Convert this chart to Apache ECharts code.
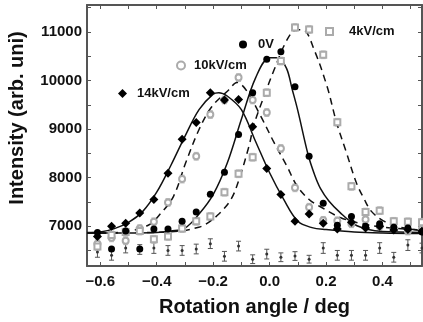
<!DOCTYPE html>
<html><head><meta charset="utf-8">
<script src="https://cdn.jsdelivr.net/npm/echarts@6/dist/echarts.min.js"></script>
<style>html,body{margin:0;padding:0;background:#fff}#c{width:423px;height:322px}</style>
</head><body><div id="c"></div>
<script>
// ---- data ----
const xs = [-0.61,-0.56,-0.51,-0.46,-0.41,-0.36,-0.31,-0.26,-0.21,-0.16,-0.11,-0.06,-0.01,0.04,0.09,0.14,0.19,0.24,0.29,0.34,0.39,0.44,0.49,0.54];
const v0V  = [6870,6530,6900,6530,6940,6940,7100,7290,7660,8110,8890,9750,10440,10590,9870,8440,7470,7020,7200,7000,7050,6980,6960,6880];
const v14k = [6790,7000,7060,7270,7550,8090,8790,9135,9750,9600,9610,9050,8190,7650,7100,7250,7060,6940,7080,6960,7000,6920,6930,6900];
const v10k = [6640,6760,6700,6950,7090,7490,7970,8440,9300,9600,10060,9600,9340,8600,7790,7390,7120,7110,7050,7140,7000,6950,6900,6950];
const v4k  = [6580,6820,6880,6900,6730,6790,6950,7100,7200,7700,8080,8420,9750,10400,11090,11050,10530,9140,7820,7290,7320,7100,7090,7080];
const errGray = [80,80,80,80,80,80,80,80,80,80,80,80,80,80,80,80,80,80,80,80,80,80,80,80];
const vBase = [6470,6400,6550,6520,6550,6500,6500,6530,6640,6380,6590,6320,6425,6360,6385,6320,6550,6400,6400,6400,6550,6360,6610,6550];
const errBase = [110,100,100,100,110,100,100,100,100,100,100,90,100,90,90,80,110,100,100,100,110,100,110,100];

// fit curves (traced)
const fit0V_x  = [-0.647,-0.5,-0.4,-0.35,-0.3,-0.25,-0.2,-0.15,-0.1,-0.05,0,0.03,0.06,0.08,0.1,0.137,0.16,0.18,0.21,0.25,0.3,0.35,0.4,0.54];
const fit0V_y  = [6860,6860,6870,6900,6960,7250,7650,8300,9200,10050,10470,10470,10250,9820,9380,8460,8050,7780,7520,7280,7040,6930,6890,6870];
const fit14_x  = [-0.647,-0.6,-0.55,-0.5,-0.45,-0.4,-0.35,-0.3,-0.25,-0.2,-0.18,-0.15,-0.1,-0.05,0,0.05,0.1,0.15,0.2,0.3,0.4,0.54];
const fit14_y  = [6870,6880,6950,7080,7300,7700,8250,8850,9400,9720,9750,9680,9400,8750,8100,7550,7100,6970,6930,6880,6860,6850];
const fit10_x  = [-0.647,-0.6,-0.52,-0.43,-0.386,-0.34,-0.297,-0.25,-0.205,-0.144,-0.116,-0.084,-0.031,0.016,0.062,0.097,0.14,0.18,0.25,0.32,0.4,0.54];
const fit10_y  = [6860,6860,6880,7020,7260,7620,8310,8990,9460,9810,9960,9810,9260,8720,8230,7830,7550,7400,7180,7060,6980,6920];
const fit4_x   = [-0.647,-0.43,-0.315,-0.251,-0.226,-0.18,-0.137,-0.109,-0.073,-0.055,-0.02,0.016,0.062,0.095,0.12,0.158,0.204,0.237,0.272,0.307,0.335,0.36,0.403,0.46,0.54];
const fit4_y   = [6860,6870,6900,6980,7040,7250,7550,7950,8650,9100,9670,10220,10840,11045,11040,10630,9870,9140,8520,7900,7560,7310,7110,6980,6910];

const xTicks = [-0.6,-0.5,-0.4,-0.3,-0.2,-0.1,0,0.1,0.2,0.3,0.4,0.5];
const xLabels = [-0.6,-0.4,-0.2,0,0.2,0.4];
const yTicks = [6500,7000,7500,8000,8500,9000,9500,10000,10500,11000,11500];
const yLabels = [7000,8000,9000,10000,11000];

const zip = (a,b) => a.map((v,i)=>[v,b[i]]);
const zip3 = (a,b,c) => a.map((v,i)=>[v,b[i],c[i]]);

const FONT = 'Liberation Sans, Arial, sans-serif';
const FRAME = '#555';
const GRAY = '#ababab';
const GRAYBAR = '#bdbdbd';

function errRender(color){
  return function(params, api){
    const x = api.value(0), y = api.value(1), e = api.value(2);
    const t = api.coord([x, y+e]), b = api.coord([x, y-e]);
    const w = 2.5;
    const st = {stroke: color, lineWidth: 1};
    return {type:'group', children:[
      {type:'line', shape:{x1:t[0],y1:t[1],x2:b[0],y2:b[1]}, style:st},
      {type:'line', shape:{x1:t[0]-w,y1:t[1],x2:t[0]+w,y2:t[1]}, style:st},
      {type:'line', shape:{x1:b[0]-w,y1:b[1],x2:b[0]+w,y2:b[1]}, style:st}
    ]};
  };
}

const xmin = -0.647, xmax = 0.54, ymin = 6180, ymax = 11555;
const axisLine = {show:true, onZero:false, lineStyle:{color:FRAME, width:2}};

const chart = echarts.init(document.getElementById('c'), null, {renderer:'canvas'});
const legendBase = {orient:'horizontal', padding:0, itemWidth:8, itemHeight:8, selectedMode:false};
const legText = (pl) => ({fontSize:13, fontWeight:'bold', color:'#111', fontFamily:FONT, padding:[0,0,0,pl]});
const grayStyle = {color:GRAY, borderWidth:1.1, opacity:1};

chart.setOption({
  animation:false,
  backgroundColor:'#fff',
  grid:{left:87, right:1, top:5, bottom:55},
  xAxis:[
    {type:'value', min:xmin, max:xmax, position:'bottom', axisLine,
     axisTick:{show:true, inside:true, length:4, customValues:xTicks, lineStyle:{color:FRAME, width:1}},
     axisLabel:{customValues:xLabels, color:'#111', fontSize:15, fontWeight:'bold', fontFamily:FONT, margin:8,
       formatter:v => (v < -1e-9 ? '\u2212' : '') + Math.abs(v).toFixed(1)},
     splitLine:{show:false},
     name:'Rotation angle / deg', nameLocation:'middle', nameGap:31,
     nameTextStyle:{fontSize:20, fontWeight:'bold', color:'#111', fontFamily:FONT}},
    {type:'value', min:xmin, max:xmax, position:'top', axisLine,
     axisTick:{show:true, inside:true, length:4, customValues:xTicks, lineStyle:{color:FRAME, width:1}},
     axisLabel:{show:false}, splitLine:{show:false}}
  ],
  yAxis:[
    {type:'value', min:ymin, max:ymax, position:'left', axisLine,
     axisTick:{show:true, inside:true, length:4, customValues:yTicks, lineStyle:{color:FRAME, width:1}},
     axisLabel:{customValues:yLabels, color:'#111', fontSize:15, fontWeight:'bold', fontFamily:FONT, margin:5,
       formatter:v => String(Math.round(v))},
     splitLine:{show:false}},
    {type:'value', min:ymin, max:ymax, position:'right', axisLine,
     axisTick:{show:true, inside:true, length:4, customValues:yTicks, lineStyle:{color:FRAME, width:1}},
     axisLabel:{show:false}, splitLine:{show:false}}
  ],
  legend:[
    Object.assign({}, legendBase, {data:['0V'], left:239, top:38, textStyle:legText(6)}),
    Object.assign({}, legendBase, {data:['10kV/cm'], left:176, top:59, textStyle:legText(4)}),
    Object.assign({}, legendBase, {data:['4kV/cm'], left:325, top:25, itemWidth:7, itemHeight:7, textStyle:legText(11)}),
    Object.assign({}, legendBase, {data:['14kV/cm'], left:118, top:87, itemWidth:9, itemHeight:9, textStyle:legText(5)})
  ],
  graphic:[
    {type:'text', x:17, y:118, rotation:Math.PI/2,
     style:{text:'Intensity (arb. uni)', font:'bold 20px ' + FONT, fill:'#111', align:'center', verticalAlign:'middle'}}
  ],
  series:[
    {type:'custom', name:'baseErr', renderItem:errRender('#555'), data:zip3(xs, vBase, errBase), z:2, clip:false},
    {type:'scatter', name:'base', data:zip(xs, vBase), symbol:'circle', symbolSize:3, itemStyle:{color:'#333', opacity:1}, z:3, clip:false},
    {type:'custom', name:'err10', renderItem:errRender(GRAYBAR), data:zip3(xs, v10k, errGray), z:2, clip:false},
    {type:'custom', name:'err4', renderItem:errRender(GRAYBAR), data:zip3(xs, v4k, errGray), z:2, clip:false},
    {type:'line', name:'fit14', data:zip(fit14_x, fit14_y), smooth:0.35, showSymbol:false, lineStyle:{color:'#111', width:1.5}, z:4},
    {type:'line', name:'fit0', data:zip(fit0V_x, fit0V_y), smooth:0.35, showSymbol:false, lineStyle:{color:'#111', width:1.5}, z:4},
    {type:'line', name:'fit10', data:zip(fit10_x, fit10_y), smooth:0.35, showSymbol:false, lineStyle:{color:'#111', width:1.5, type:[7,5]}, z:4},
    {type:'line', name:'fit4', data:zip(fit4_x, fit4_y), smooth:0.35, showSymbol:false, lineStyle:{color:'#111', width:1.5, type:[7,5]}, z:4},
    {type:'scatter', name:'10kV/cm', data:zip(xs, v10k), symbol:'emptyCircle', symbolSize:6, itemStyle:grayStyle, z:5, clip:false},
    {type:'scatter', name:'4kV/cm', data:zip(xs, v4k), symbol:'emptyRect', symbolSize:6, itemStyle:grayStyle, z:5, clip:false},
    {type:'scatter', name:'14kV/cm', data:zip(xs, v14k), symbol:'diamond', symbolSize:9, itemStyle:{color:'#000', opacity:1}, z:6, clip:false},
    {type:'scatter', name:'0V', data:zip(xs, v0V), symbol:'circle', symbolSize:7, itemStyle:{color:'#000', opacity:1}, z:6, clip:false}
  ]
});
</script></body></html>
